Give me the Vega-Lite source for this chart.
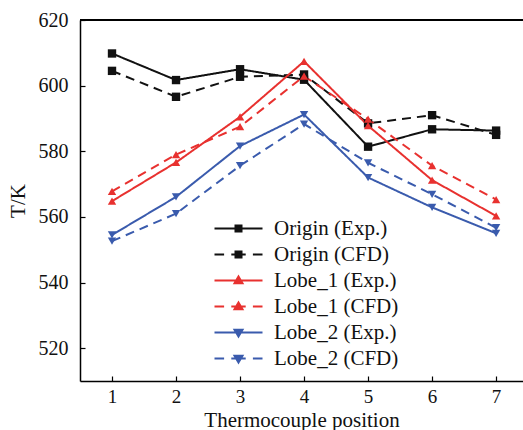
{
  "$schema": "https://vega.github.io/schema/vega-lite/v6.json",
  "width": 443,
  "height": 361,
  "autosize": "none",
  "padding": {"left": 80, "top": 20, "right": 0, "bottom": 49},
  "background": "white",
  "config": {
    "view": {"stroke": null},
    "font": "Liberation Serif",
    "axis": {"grid": false, "domainColor": "#000", "tickColor": "#000", "labelColor": "#111", "titleColor": "#111", "labelFont": "Liberation Serif", "titleFont": "Liberation Serif", "labelFontSize": 20, "titleFontSize": 21, "titleFontWeight": "normal", "domainWidth": 1.5, "tickWidth": 1.2}
  },
  "data": {
    "values": [
      {"pos": 1, "model": "Origin", "source": "Exp.", "series": "Origin (Exp.)", "T": 609.8},
      {"pos": 2, "model": "Origin", "source": "Exp.", "series": "Origin (Exp.)", "T": 601.7},
      {"pos": 3, "model": "Origin", "source": "Exp.", "series": "Origin (Exp.)", "T": 605.0},
      {"pos": 4, "model": "Origin", "source": "Exp.", "series": "Origin (Exp.)", "T": 601.8},
      {"pos": 5, "model": "Origin", "source": "Exp.", "series": "Origin (Exp.)", "T": 581.4},
      {"pos": 6, "model": "Origin", "source": "Exp.", "series": "Origin (Exp.)", "T": 586.7},
      {"pos": 7, "model": "Origin", "source": "Exp.", "series": "Origin (Exp.)", "T": 586.3},
      {"pos": 1, "model": "Origin", "source": "CFD", "series": "Origin (CFD)", "T": 604.5},
      {"pos": 2, "model": "Origin", "source": "CFD", "series": "Origin (CFD)", "T": 596.6},
      {"pos": 3, "model": "Origin", "source": "CFD", "series": "Origin (CFD)", "T": 602.7},
      {"pos": 4, "model": "Origin", "source": "CFD", "series": "Origin (CFD)", "T": 603.4},
      {"pos": 5, "model": "Origin", "source": "CFD", "series": "Origin (CFD)", "T": 588.5},
      {"pos": 6, "model": "Origin", "source": "CFD", "series": "Origin (CFD)", "T": 591.0},
      {"pos": 7, "model": "Origin", "source": "CFD", "series": "Origin (CFD)", "T": 585.0},
      {"pos": 1, "model": "Lobe_1", "source": "Exp.", "series": "Lobe_1 (Exp.)", "T": 564.8},
      {"pos": 2, "model": "Lobe_1", "source": "Exp.", "series": "Lobe_1 (Exp.)", "T": 576.6},
      {"pos": 3, "model": "Lobe_1", "source": "Exp.", "series": "Lobe_1 (Exp.)", "T": 590.5},
      {"pos": 4, "model": "Lobe_1", "source": "Exp.", "series": "Lobe_1 (Exp.)", "T": 607.4},
      {"pos": 5, "model": "Lobe_1", "source": "Exp.", "series": "Lobe_1 (Exp.)", "T": 587.8},
      {"pos": 6, "model": "Lobe_1", "source": "Exp.", "series": "Lobe_1 (Exp.)", "T": 571.2},
      {"pos": 7, "model": "Lobe_1", "source": "Exp.", "series": "Lobe_1 (Exp.)", "T": 560.3},
      {"pos": 1, "model": "Lobe_1", "source": "CFD", "series": "Lobe_1 (CFD)", "T": 567.8},
      {"pos": 2, "model": "Lobe_1", "source": "CFD", "series": "Lobe_1 (CFD)", "T": 579.0},
      {"pos": 3, "model": "Lobe_1", "source": "CFD", "series": "Lobe_1 (CFD)", "T": 587.5},
      {"pos": 4, "model": "Lobe_1", "source": "CFD", "series": "Lobe_1 (CFD)", "T": 602.9},
      {"pos": 5, "model": "Lobe_1", "source": "CFD", "series": "Lobe_1 (CFD)", "T": 589.8},
      {"pos": 6, "model": "Lobe_1", "source": "CFD", "series": "Lobe_1 (CFD)", "T": 575.6},
      {"pos": 7, "model": "Lobe_1", "source": "CFD", "series": "Lobe_1 (CFD)", "T": 565.3},
      {"pos": 1, "model": "Lobe_2", "source": "Exp.", "series": "Lobe_2 (Exp.)", "T": 554.5},
      {"pos": 2, "model": "Lobe_2", "source": "Exp.", "series": "Lobe_2 (Exp.)", "T": 566.1},
      {"pos": 3, "model": "Lobe_2", "source": "Exp.", "series": "Lobe_2 (Exp.)", "T": 581.6},
      {"pos": 4, "model": "Lobe_2", "source": "Exp.", "series": "Lobe_2 (Exp.)", "T": 591.2},
      {"pos": 5, "model": "Lobe_2", "source": "Exp.", "series": "Lobe_2 (Exp.)", "T": 572.0},
      {"pos": 6, "model": "Lobe_2", "source": "Exp.", "series": "Lobe_2 (Exp.)", "T": 562.9},
      {"pos": 7, "model": "Lobe_2", "source": "Exp.", "series": "Lobe_2 (Exp.)", "T": 555.0},
      {"pos": 1, "model": "Lobe_2", "source": "CFD", "series": "Lobe_2 (CFD)", "T": 552.6},
      {"pos": 2, "model": "Lobe_2", "source": "CFD", "series": "Lobe_2 (CFD)", "T": 561.0},
      {"pos": 3, "model": "Lobe_2", "source": "CFD", "series": "Lobe_2 (CFD)", "T": 575.6},
      {"pos": 4, "model": "Lobe_2", "source": "CFD", "series": "Lobe_2 (CFD)", "T": 588.3},
      {"pos": 5, "model": "Lobe_2", "source": "CFD", "series": "Lobe_2 (CFD)", "T": 576.5},
      {"pos": 6, "model": "Lobe_2", "source": "CFD", "series": "Lobe_2 (CFD)", "T": 566.9},
      {"pos": 7, "model": "Lobe_2", "source": "CFD", "series": "Lobe_2 (CFD)", "T": 556.7}
    ]
  },
  "encoding": {
    "x": {
      "field": "pos", "type": "quantitative",
      "scale": {"domain": [0.5, 7.42], "nice": false, "zero": false},
      "axis": {"values": [1, 2, 3, 4, 5, 6, 7], "title": "Thermocouple position", "tickSize": -5, "labelFontSize": 19, "labelPadding": 11, "titleBaseline": "alphabetic", "titleY": 45}
    },
    "y": {
      "field": "T", "type": "quantitative",
      "scale": {"domain": [510, 620], "nice": false, "zero": false},
      "axis": {"values": [520, 540, 560, 580, 600, 620], "title": "T/K", "tickSize": -5, "labelPadding": 17, "titlePadding": 10}
    },
    "color": {
      "field": "series", "type": "nominal",
      "scale": {
        "domain": ["Origin (Exp.)", "Origin (CFD)", "Lobe_1 (Exp.)", "Lobe_1 (CFD)", "Lobe_2 (Exp.)", "Lobe_2 (CFD)"],
        "range": ["#111111", "#111111", "#e8312f", "#e8312f", "#3a5bad", "#3a5bad"]
      },
      "legend": {
        "title": null,
        "orient": "none",
        "legendX": 148,
        "legendY": 198,
        "padding": 0,
        "symbolSize": 64,
        "symbolStrokeWidth": 2,
        "labelFont": "Liberation Serif",
        "labelFontSize": 21,
        "labelColor": "#111",
        "labelOffset": 25,
        "labelLimit": 300,
        "rowPadding": 4,
        "encode": {
          "symbols": {
            "update": {
              "shape": {"signal": "datum.value == 'Origin (Exp.)' ? 'M-6,0H6M-0.75,-0.75H0.75V0.75H-0.75Z' : datum.value == 'Origin (CFD)' ? 'M-6,0H-3.6M-1.8,0H1.8M3.6,0H6M-0.75,-0.75H0.75V0.75H-0.75Z' : datum.value == 'Lobe_1 (Exp.)' ? 'M-6,0H6M0,-1L1,0.7L-1,0.7Z' : datum.value == 'Lobe_1 (CFD)' ? 'M-6,0H-3.6M-1.8,0H1.8M3.6,0H6M0,-1L1,0.7L-1,0.7Z' : datum.value == 'Lobe_2 (Exp.)' ? 'M-6,0H6M0,1L1,-0.7L-1,-0.7Z' : 'M-6,0H-3.6M-1.8,0H1.8M3.6,0H6M0,1L1,-0.7L-1,-0.7Z'"},
              "fill": {"scale": "color", "field": "value"},
              "strokeDash": {"value": []},
              "opacity": {"value": 1}
            }
          }
        }
      }
    }
  },
  "layer": [
    {
      "mark": {"type": "line", "strokeWidth": 2},
      "encoding": {
        "strokeDash": {
          "field": "source", "type": "nominal",
          "scale": {"domain": ["Exp.", "CFD"], "range": [[1, 0], [9, 6]]},
          "legend": null
        }
      }
    },
    {
      "mark": {"type": "point", "filled": true, "opacity": 1, "size": 70},
      "encoding": {
        "shape": {
          "field": "model", "type": "nominal",
          "scale": {"domain": ["Origin", "Lobe_1", "Lobe_2"], "range": ["square", "triangle-up", "triangle-down"]},
          "legend": null
        }
      }
    },
    {
      "mark": {"type": "rule", "color": "#000", "strokeWidth": 1.5},
      "encoding": {"y": {"datum": 620}, "x": {"datum": 0.5}, "x2": {"datum": 7.42}, "color": null}
    }
  ]
}
